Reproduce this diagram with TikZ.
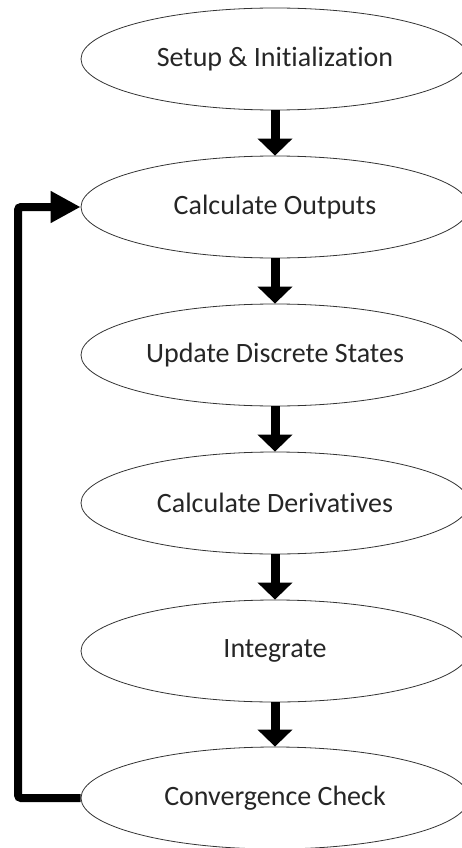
\documentclass[tikz,border=0pt]{standalone}
\usepackage{fontspec}
\setmainfont[Ligatures={NoCommon,NoRare}]{Carlito}
\usetikzlibrary{shapes.geometric,arrows.meta}
\begin{document}
\begin{tikzpicture}[x=1pt,y=1pt,
  stage/.style={ellipse,draw=black!80,line width=0.8pt,minimum width=388pt,minimum height=102pt,inner sep=0pt,text=black!85,font=\fontsize{28}{32}\selectfont},
  flow/.style={line width=9pt,-{Triangle[width=34pt,length=17pt]}},
  back/.style={line width=8pt,rounded corners=3pt,-{Triangle[width=30pt,length=30pt]}}]
\useasboundingbox (0,0) rectangle (462,-848);
\begin{scope}
\clip (0,0) rectangle (462,-848);
\node[stage] (setup) at (275,-59) {Setup \& Initialization};
\node[stage] (out) at (275,-207) {Calculate Outputs};
\node[stage] (upd) at (275,-355) {Update Discrete States};
\node[stage] (der) at (275,-503) {Calculate Derivatives};
\node[stage] (int) at (275,-651) {Integrate};
\node[stage] (conv) at (275,-798) {Convergence Check};
\draw[flow] (setup.south) -- (out.north);
\draw[flow] (out.south) -- (upd.north);
\draw[flow] (upd.south) -- (der.north);
\draw[flow] (der.south) -- (int.north);
\draw[flow] (int.south) -- (conv.north);
\coordinate (bl) at (18,-798);
\coordinate (tl) at (18,-207);
\draw[back] (conv.west) -- (bl) -- (tl) -- (out.west);
\end{scope}
\end{tikzpicture}
\end{document}
